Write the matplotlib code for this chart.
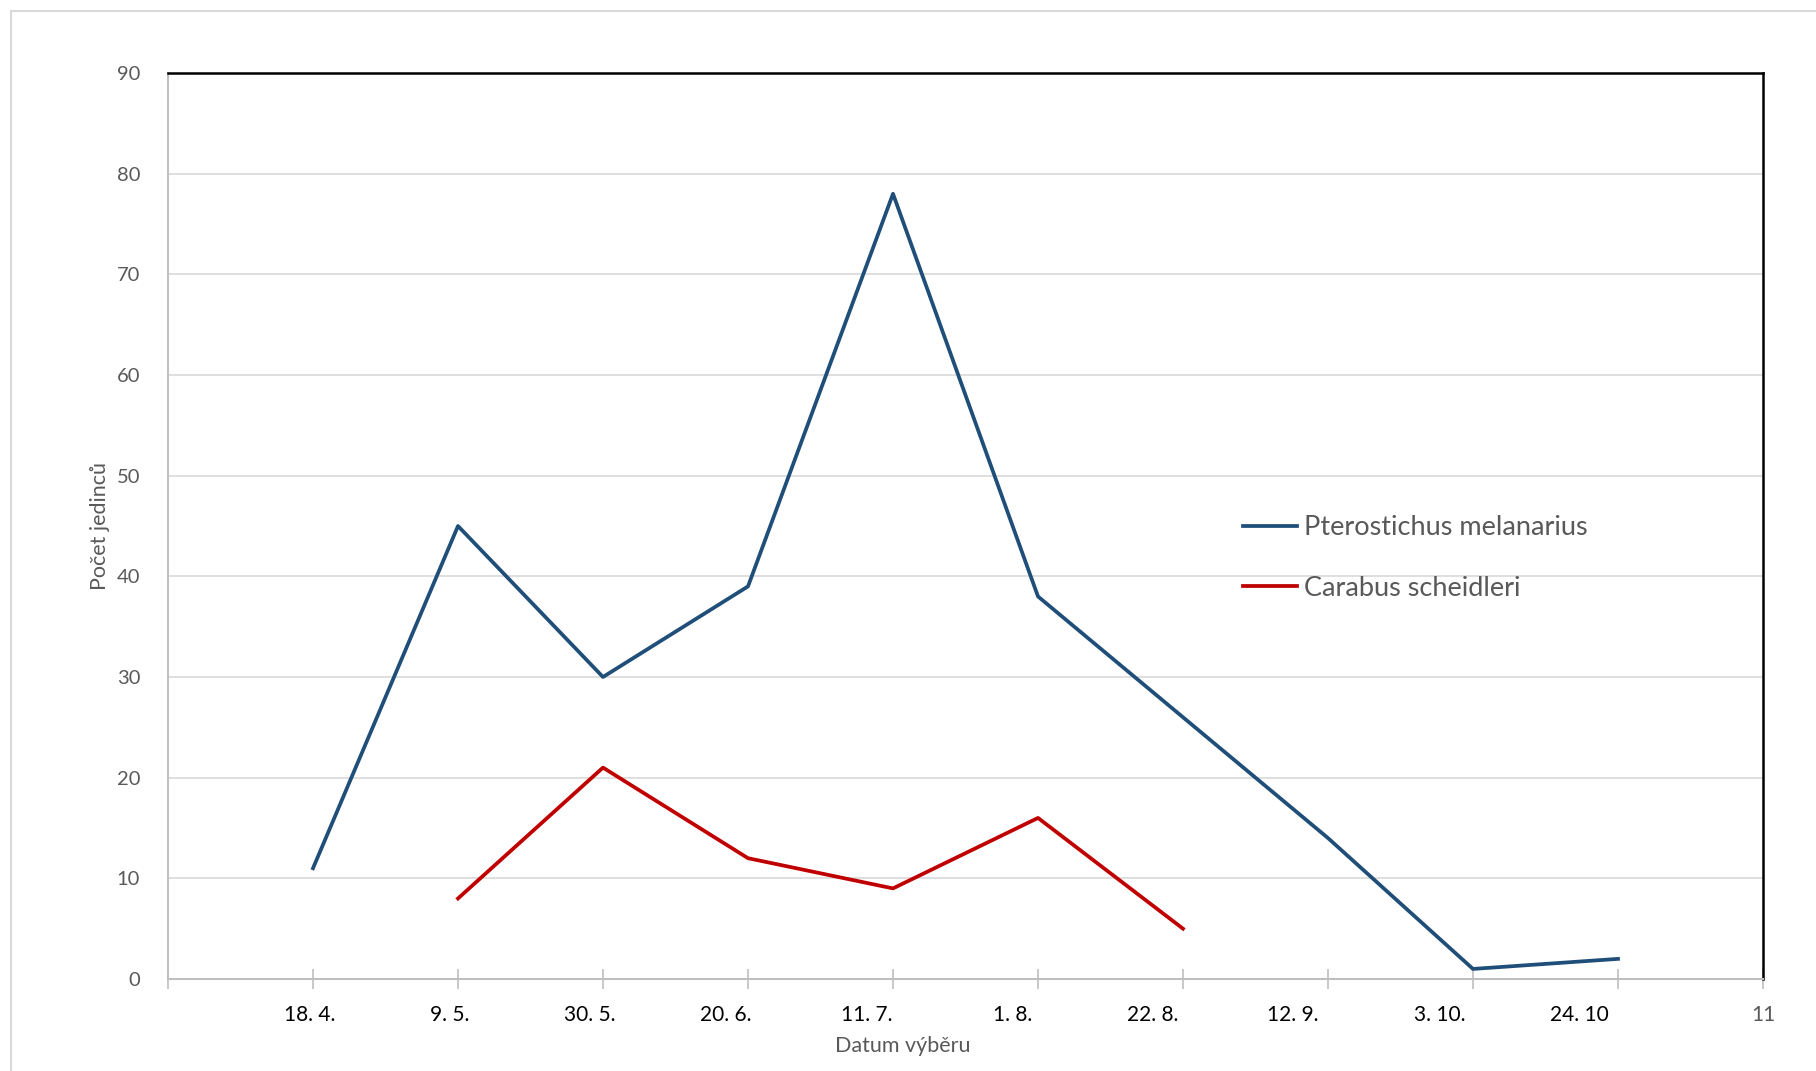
import matplotlib.pyplot as plt
from matplotlib.patches import Rectangle

# data
dates = ['18. 4.', '9. 5.', '30. 5.', '20. 6.', '11. 7.', '1. 8.', '22. 8.', '12. 9.', '3. 10.', '24. 10']
pterostichus = [11, 45, 30, 39, 78, 38, 26, 14, 1, 2]
carabus = [None, 8, 21, 12, 9, 16, 5, None, None, None]

plt.rcParams['font.family'] = ['Lato', 'DejaVu Sans']

W, H = 1816, 1071
fig = plt.figure(figsize=(W / 100, H / 100), dpi=100)
ax = fig.add_axes([168 / W, 1 - 979 / H, (1763 - 168) / W, (979 - 73) / H])

# light grey outer frame (only top and left edges are visible)
fig.add_artist(Rectangle((11 / W, -0.05), 1.2, 1.05 - 11 / H, transform=fig.transFigure,
                         fill=False, edgecolor='#d9d9d9', lw=1.5))

x = list(range(1, len(dates) + 1))
xp = [i for i, v in zip(x, pterostichus) if v is not None]
yp = [v for v in pterostichus if v is not None]
xc = [i for i, v in zip(x, carabus) if v is not None]
yc = [v for v in carabus if v is not None]

ax.plot(xp, yp, color='#1f4e79', lw=2.7, label='Pterostichus melanarius', zorder=3)
ax.plot(xc, yc, color='#c00000', lw=2.7, label='Carabus scheidleri', zorder=3)

ax.set_xlim(0, 11)
ax.set_ylim(0, 90)
ax.set_yticks(range(0, 91, 10))

# tick marks at every category boundary, labels on minor ticks
ax.xaxis.remove_overlapping_locs = False
ax.set_xticks(range(0, 12))
ax.set_xticklabels([])
# the date labels sit a little left of their ticks in the original (pixels)
shift_px = [-3, -8, -13, -22, -26, -25, -30, -35, -33, -39, 0]
px_per_unit = (1763 - 168) / 11
label_pos = [i + dx / px_per_unit for i, dx in zip(range(1, 12), shift_px)]
ax.set_xticks(label_pos, dates + ['11'], minor=True)
minor_labels = ax.get_xticklabels(minor=True)
for lbl in minor_labels:
    lbl.set_color('black')
minor_labels[-1].set_color('#595959')

ax.grid(axis='y', color='#d9d9d9', lw=1.2)
ax.set_axisbelow(True)

for s in ['top', 'right']:
    ax.spines[s].set_color('black')
    ax.spines[s].set_linewidth(1.8)
for s in ['left', 'bottom']:
    ax.spines[s].set_color('#bfbfbf')
    ax.spines[s].set_linewidth(1.5)

ax.tick_params(axis='y', length=0, pad=20, labelsize=14.5, labelcolor='#595959')
ax.tick_params(axis='x', which='major', direction='inout', length=14, width=1.2, color='#bfbfbf')
ax.tick_params(axis='x', which='minor', length=0, pad=19, labelsize=15)

ax.set_xlabel('Datum výběru', fontsize=15.5, color='#595959')
ax.xaxis.set_label_coords((903 - 168) / 1595, -57 / 906)
ax.set_ylabel('Počet jedinců', fontsize=15.5, color='#595959')
ax.yaxis.set_label_coords(-58 / 1595, 0.5)

leg = ax.legend(loc='center left', bbox_to_anchor=((1243 - 168) / 1595, (979 - 558) / 906),
                frameon=False, fontsize=19.5, borderpad=0, borderaxespad=0,
                handlelength=2.0, handletextpad=0.25, labelspacing=1.3)
for t in leg.get_texts():
    t.set_color('#595959')

fig.savefig('out.png', dpi=100)
